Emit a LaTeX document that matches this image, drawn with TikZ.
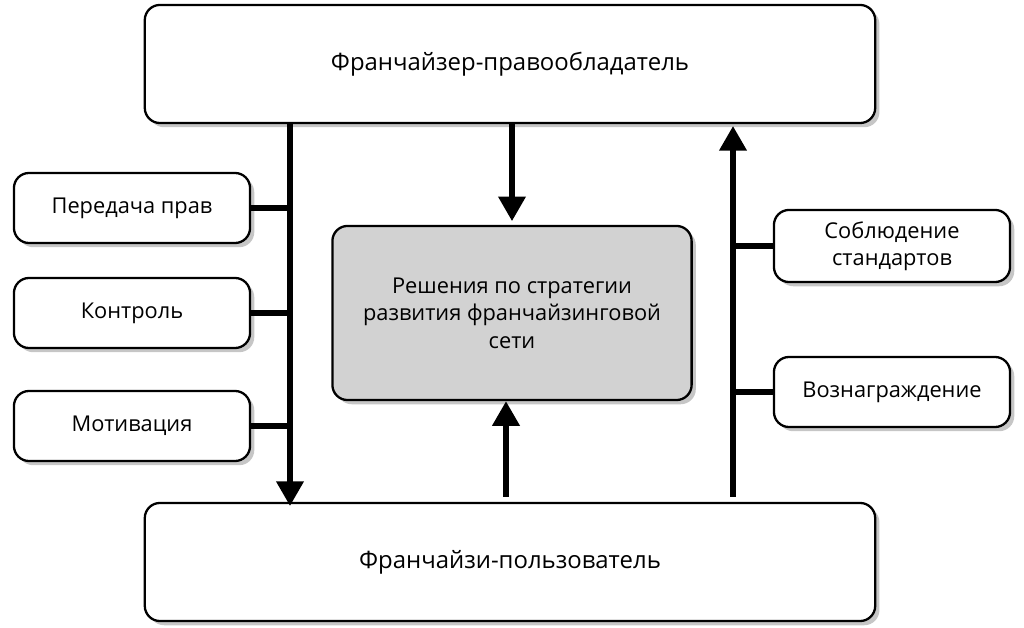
\documentclass[tikz,border=0pt]{standalone}
\usepackage{fontspec}
\setmainfont{Open Sans}
\usetikzlibrary{positioning,arrows.meta,shadows,calc}
\begin{document}
\begin{tikzpicture}[x=0.01cm,y=-0.01cm,
    block/.style={draw, line width=0.65pt, rounded corners=4.3pt, fill=white, align=center,
        drop shadow={shadow xshift=1.2pt, shadow yshift=-1.2pt, opacity=0.45}},
    side/.style={block, minimum width=2.36cm, minimum height=0.7cm,
        font=\fontsize{6.2}{7.6}\selectfont},
    main/.style={block, minimum width=7.3cm, minimum height=1.18cm,
        font=\fontsize{6.8}{8}\selectfont},
    link/.style={line width=1.6pt},
    arrow/.style={link, -{Triangle[length=7pt,width=7.5pt]}}
]
\useasboundingbox (0,0) rectangle (1024,628);

% Main boxes
\node[main] (top) at (510,64) {Франчайзер-правообладатель};
\node[main] (bot) at (510,562) {Франчайзи-пользователь};
\node[block, fill=gray!35, minimum width=3.59cm, minimum height=1.74cm,
    font=\fontsize{6.2}{7.8}\selectfont] (mid) at (512,313)
    {Решения по стратегии\\развития франчайзинговой\\сети};

% Side boxes
\node[side] (rights) at (132,208) {Передача прав};
\node[side] (ctrl) at (132,313) {Контроль};
\node[side] (motiv) at (132,426) {Мотивация};
\node[side] (std) at (892,246) {Соблюдение\\стандартов};
\node[side] (reward) at (892,392) {Вознаграждение};

% Vertical lines
\coordinate (lt) at (290,123);
\coordinate (lb) at (290,506);
\coordinate (rb) at (733,497);
\coordinate (rt) at (733,126);
\draw[arrow] (lt) -- (lb);
\draw[arrow] (rb) -- (rt);
\draw[arrow] (top.south -| mid.north) -- ++(0,97);
\draw[arrow] ($(bot.north)+(-4,-5)$) -- ($(mid.south)+(-6,0)$);

% Connectors
\foreach \n in {rights,ctrl,motiv}
    \draw[link] (\n.east) -- (\n.east -| lt);
\foreach \n in {std,reward}
    \draw[link] (\n.west) -- (\n.west -| rt);
\end{tikzpicture}
\end{document}
